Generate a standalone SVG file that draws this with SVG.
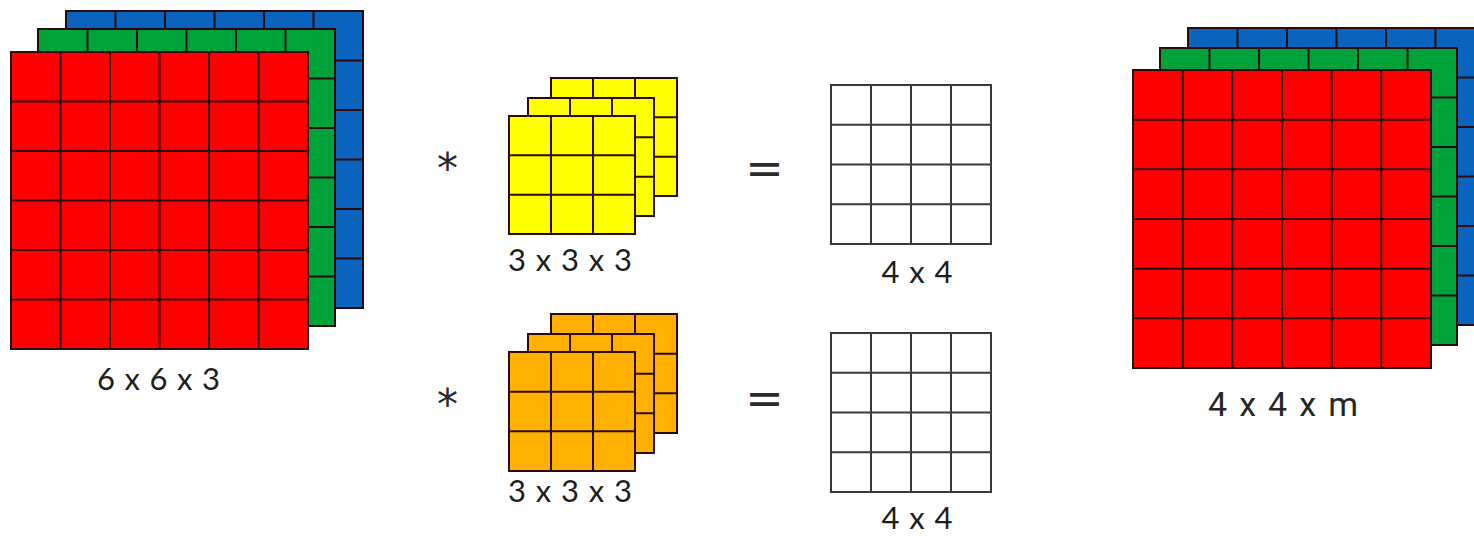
<svg xmlns="http://www.w3.org/2000/svg" width="1474" height="536" viewBox="0 0 1474 536">
<style>
.red{fill:#FF0000}
.green{fill:#00A33A}
.blue{fill:#0A64BE}
.yel{fill:#FFFF00}
.ora{fill:#FFB000}
.wht{fill:#FFFFFF}
.edge{fill:none;stroke:#2a0a0a;stroke-width:2}
.wedge{fill:none;stroke:#3a3a3a;stroke-width:2}
.lbl{font-family:Lato,"Open Sans","Liberation Sans",sans-serif;fill:#1e1e1e;text-anchor:middle}
.lbl2{font-family:Roboto,"Open Sans","Liberation Sans",sans-serif;fill:#262626;text-anchor:middle}
.ast{font-family:"DejaVu Sans","Liberation Sans",sans-serif;fill:#2a2a2a;text-anchor:middle}
.eq{font-family:"DejaVu Sans","Liberation Sans",sans-serif;fill:#2a2a2a;text-anchor:middle}
</style>
<rect width="1474" height="536" fill="#FFFFFF"/>

<g id="input-6x6x3">
  <rect class="blue" x="66" y="11" width="297" height="297"/>
  <path class="edge" d="M66 11h297v297h-297z M115.5 11v297 M165 11v297 M214.5 11v297 M264 11v297 M313.5 11v297 M66 60.5h297 M66 110h297 M66 159.5h297 M66 209h297 M66 258.5h297"/>
  <rect class="green" x="38" y="29" width="297" height="297"/>
  <path class="edge" d="M38 29h297v297h-297z M87.5 29v297 M137 29v297 M186.5 29v297 M236 29v297 M285.5 29v297 M38 78.5h297 M38 128h297 M38 177.5h297 M38 227h297 M38 276.5h297"/>
  <rect class="red" x="11" y="52" width="297" height="297"/>
  <path class="edge" d="M11 52h297v297h-297z M60.5 52v297 M110 52v297 M159.5 52v297 M209 52v297 M258.5 52v297 M11 101.5h297 M11 151h297 M11 200.5h297 M11 250h297 M11 299.5h297"/>
  <text class="lbl" x="158.5" y="390" font-size="31" textLength="123" lengthAdjust="spacing">6 x 6 x 3</text>
</g>

<g id="filter-yellow">
  <text class="ast" x="447.5" y="183" font-size="42">*</text>
  <rect class="yel" x="551" y="78" width="126" height="118"/>
  <path class="edge" d="M551 78h126v118h-126z M593 78v118 M635 78v118 M551 117.3h126 M551 156.7h126"/>
  <rect class="yel" x="528" y="98" width="126" height="118"/>
  <path class="edge" d="M528 98h126v118h-126z M570 98v118 M612 98v118 M528 137.3h126 M528 176.7h126"/>
  <rect class="yel" x="509" y="116" width="126" height="118"/>
  <path class="edge" d="M509 116h126v118h-126z M551 116v118 M593 116v118 M509 155.3h126 M509 194.7h126"/>
  <text class="lbl" x="570" y="271" font-size="31" textLength="124" lengthAdjust="spacing">3 x 3 x 3</text>
</g>

<g id="filter-orange">
  <text class="ast" x="447.5" y="419" font-size="42">*</text>
  <rect class="ora" x="551" y="314" width="126" height="119"/>
  <path class="edge" d="M551 314h126v119h-126z M593 314v119 M635 314v119 M551 353.7h126 M551 393.3h126"/>
  <rect class="ora" x="528" y="334" width="126" height="119"/>
  <path class="edge" d="M528 334h126v119h-126z M570 334v119 M612 334v119 M528 373.7h126 M528 413.3h126"/>
  <rect class="ora" x="509" y="352" width="126" height="119"/>
  <path class="edge" d="M509 352h126v119h-126z M551 352v119 M593 352v119 M509 391.7h126 M509 431.3h126"/>
  <text class="lbl" x="570" y="502" font-size="31" textLength="124" lengthAdjust="spacing">3 x 3 x 3</text>
</g>

<g id="output-1">
  <text class="eq" x="764.5" y="183.5" font-size="46">=</text>
  <rect class="wht" x="831" y="85" width="160" height="159"/>
  <path class="wedge" d="M831 85h160v159h-160z M871 85v159 M911 85v159 M951 85v159 M831 124.75h160 M831 164.5h160 M831 204.25h160"/>
  <text class="lbl" x="917" y="283" font-size="31" textLength="71" lengthAdjust="spacing">4 x 4</text>
</g>

<g id="output-2">
  <text class="eq" x="764.5" y="413.5" font-size="46">=</text>
  <rect class="wht" x="831" y="333" width="160" height="159"/>
  <path class="wedge" d="M831 333h160v159h-160z M871 333v159 M911 333v159 M951 333v159 M831 372.75h160 M831 412.5h160 M831 452.25h160"/>
  <text class="lbl" x="917" y="529" font-size="31" textLength="71" lengthAdjust="spacing">4 x 4</text>
</g>

<g id="output-4x4xm">
  <rect class="blue" x="1188" y="28" width="297" height="297"/>
  <path class="edge" d="M1188 28h297v297h-297z M1237.5 28v297 M1287 28v297 M1336.5 28v297 M1386 28v297 M1435.5 28v297 M1188 77.5h297 M1188 127h297 M1188 176.5h297 M1188 226h297 M1188 275.5h297"/>
  <rect class="green" x="1160" y="48" width="297" height="297"/>
  <path class="edge" d="M1160 48h297v297h-297z M1209.5 48v297 M1259 48v297 M1308.5 48v297 M1358 48v297 M1407.5 48v297 M1160 97.5h297 M1160 147h297 M1160 196.5h297 M1160 246h297 M1160 295.5h297"/>
  <rect class="red" x="1133" y="70" width="298" height="298"/>
  <path class="edge" d="M1133 70h298v298h-298z M1182.7 70v298 M1232.3 70v298 M1282 70v298 M1331.7 70v298 M1381.3 70v298 M1133 119.7h298 M1133 169.3h298 M1133 219h298 M1133 268.7h298 M1133 318.3h298"/>
  <text class="lbl2" x="1283" y="416" font-size="34" textLength="150" lengthAdjust="spacing">4 x 4 x m</text>
</g>
</svg>
